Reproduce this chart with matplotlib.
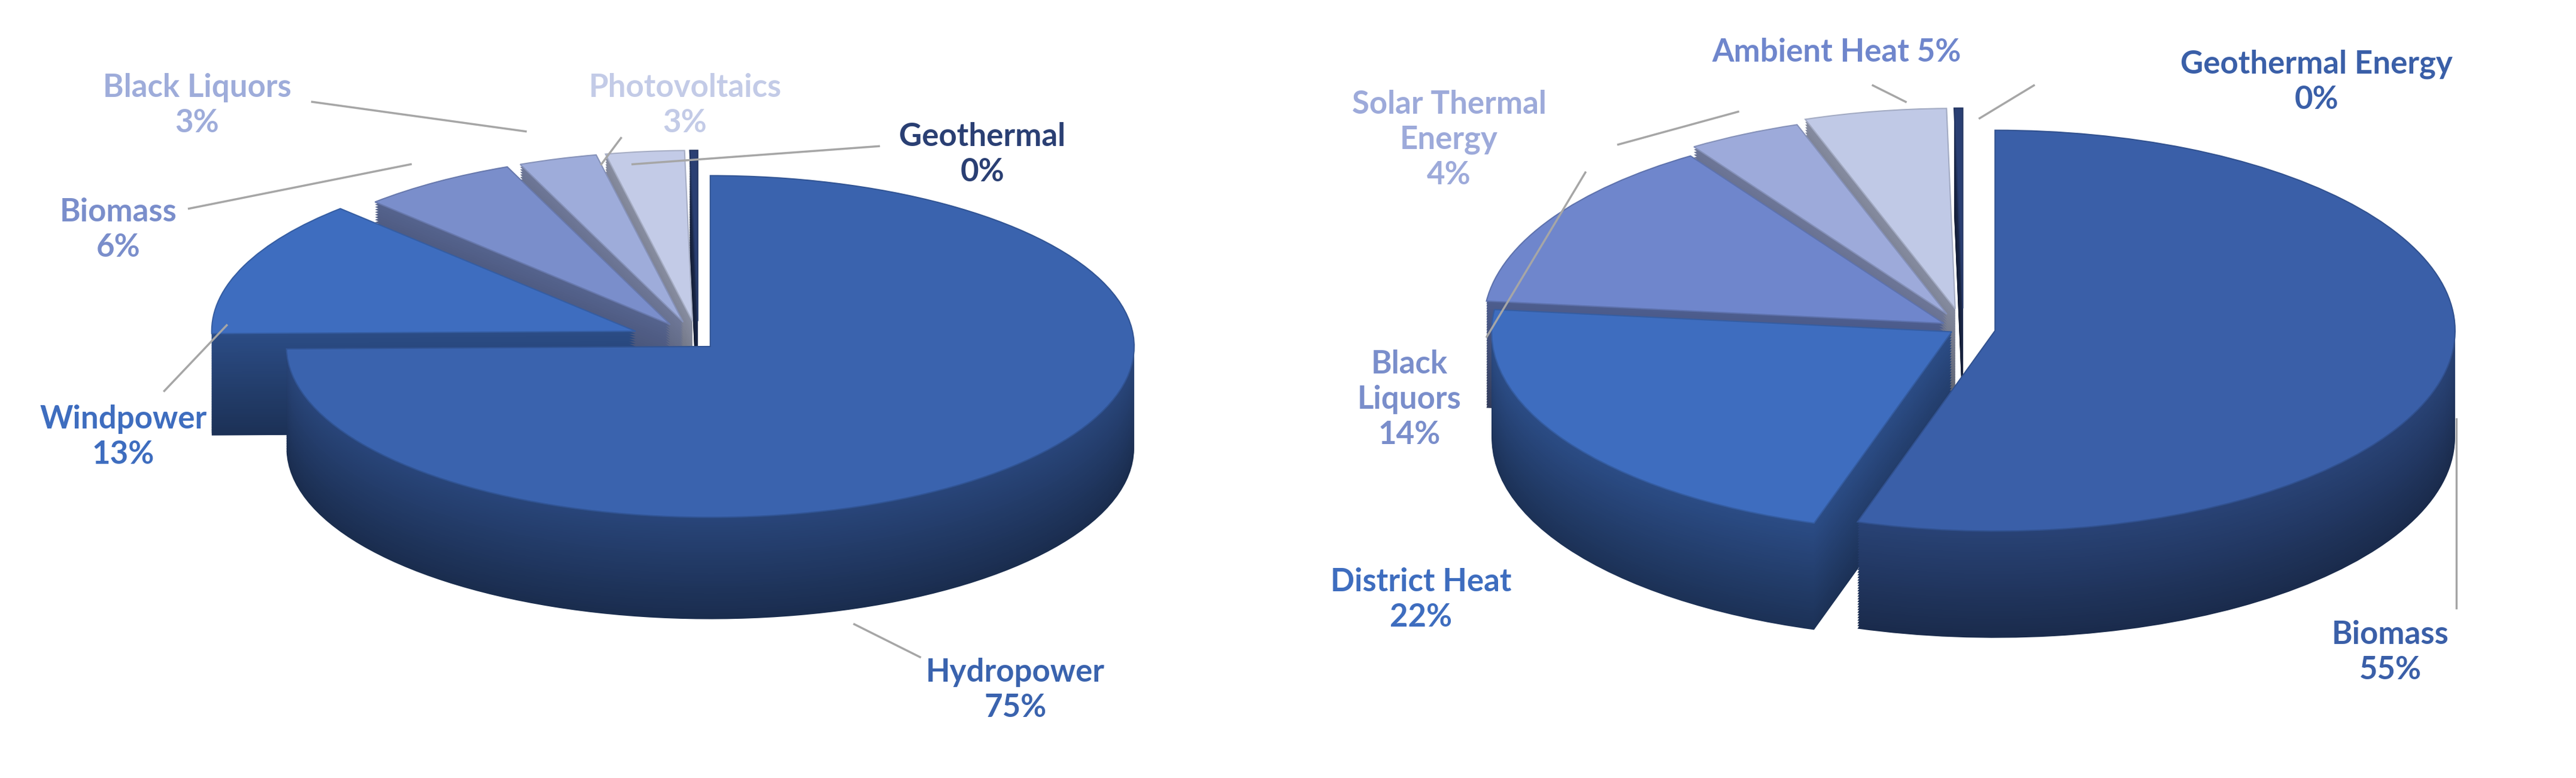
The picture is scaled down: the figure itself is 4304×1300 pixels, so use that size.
import matplotlib
matplotlib.use("Agg")
import matplotlib.pyplot as plt
from matplotlib.patches import Wedge
from matplotlib.transforms import Affine2D
import numpy as np
import matplotlib.colors as mc

left_labels = ["Hydropower", "Windpower", "Biomass", "Black Liquors", "Photovoltaics", "Geothermal"]
left_values = [75, 13, 6, 3, 3, 0.3]
left_pct = ["75%", "13%", "6%", "3%", "3%", "0%"]
right_labels = ["Biomass", "District Heat", "Black Liquors", "Solar Thermal Energy", "Ambient Heat", "Geothermal Energy"]
right_values = [55, 22, 14, 4, 5, 0.3]
right_pct = ["55%", "22%", "14%", "4%", "5%", "0%"]

left_colors = ["#3A63AE", "#3E6DBF", "#7A8ECB", "#9EACDA", "#C3CBE7", "#2A3F73"]
left_explode = [0.04, 0.16, 0.12, 0.12, 0.12, 0.12]
right_colors = ["#3A5FA8", "#3E6DBF", "#6F86CC", "#9DAADA", "#C0C9E6", "#2A3F73"]
right_explode = [0.07, 0.03, 0.05, 0.08, 0.1, 0.1]

plt.rcParams['font.family'] = ['Lato', 'DejaVu Sans']
W, H = 4304, 1300
fig = plt.figure(figsize=(W / 100, H / 100), dpi=100)
ax = fig.add_axes([0, 0, 1, 1])
sx = 4304 / 1568
ax.set_xlim(0, 1568)
ax.set_ylim(H / sx, 0)
ax.axis("off")


def darken(c, f):
    r, g, b = mc.to_rgb(c)
    return (r * f, g * f, b * f)


def draw_pie(values, colors, explode, cx, cy, rx, ry, depth):
    total = sum(values)
    cum = 0
    geo = []
    for v, c, e in zip(values, colors, explode):
        t2 = 90 - cum / total * 360
        t1 = t2 - v / total * 360
        cum += v
        mid = np.deg2rad((t1 + t2) / 2)
        geo.append((t1, t2, e * np.cos(mid), e * np.sin(mid), c))
    steps = 40
    for k in range(steps, 0, -1):
        d = depth * k / steps
        for t1, t2, ox, oy, c in geo:
            f = 0.45 + 0.25 * (1 - k / steps)
            tr = Affine2D().scale(rx, -ry).translate(cx, cy + d) + ax.transData
            ax.add_patch(Wedge((ox, oy), 1, t1, t2, transform=tr, facecolor=darken(c, f), edgecolor="none"))
    for t1, t2, ox, oy, c in geo:
        tr = Affine2D().scale(rx, -ry).translate(cx, cy) + ax.transData
        ax.add_patch(Wedge((ox, oy), 1, t1, t2, transform=tr, facecolor=c,
                           edgecolor=darken(c, 0.85), linewidth=1.5))


draw_pie(left_values, left_colors, left_explode, 425, 208, 258, 104, 62)
draw_pie(right_values, right_colors, right_explode, 1195, 200, 280, 122, 65)

fs = 38
lc = "#A6A6A6"
def lab(x, y, txt, col, line=None):
    ax.text(x, y, txt, ha="center", va="center", fontsize=fs, fontweight="bold",
            color=col, linespacing=1.25)
    if line:
        ax.plot([p[0] for p in line], [p[1] for p in line], color=lc, lw=2.5)

lab(120, 64, left_labels[3] + "\n" + left_pct[3], "#9EACDA", [(190, 62), (320, 80)])
lab(417, 64, left_labels[4] + "\n" + left_pct[4], "#C3CBE7", [(378, 84), (366, 100)])
lab(598, 94, left_labels[5] + "\n" + left_pct[5], "#2A3F73", [(535, 89), (385, 100)])
lab(72, 140, left_labels[2] + "\n" + left_pct[2], "#7A8ECB", [(115, 127), (250, 100)])
lab(75, 266, left_labels[1] + "\n" + left_pct[1], "#3E6DBF", [(100, 238), (138, 198)])
lab(618, 420, left_labels[0] + "\n" + left_pct[0], "#3A63AE", [(560, 400), (520, 380)])

lab(882, 85, "Solar Thermal\nEnergy\n" + right_pct[3], "#9DAADA", [(985, 88), (1058, 68)])
lab(1118, 32, right_labels[4] + " " + right_pct[4], "#6F86CC", [(1140, 52), (1160, 62)])
lab(1410, 50, right_labels[5] + "\n" + right_pct[5], "#3A5FA8", [(1238, 52), (1205, 72)])
lab(858, 243, "Black\nLiquors\n" + right_pct[2], "#7A8ECB", [(905, 205), (965, 105)])
lab(865, 365, right_labels[1] + "\n" + right_pct[1], "#3E6DBF")
lab(1455, 397, right_labels[0] + "\n" + right_pct[0], "#3A5FA8", [(1495, 255), (1495, 370)])

fig.savefig("out.png", dpi=100)
